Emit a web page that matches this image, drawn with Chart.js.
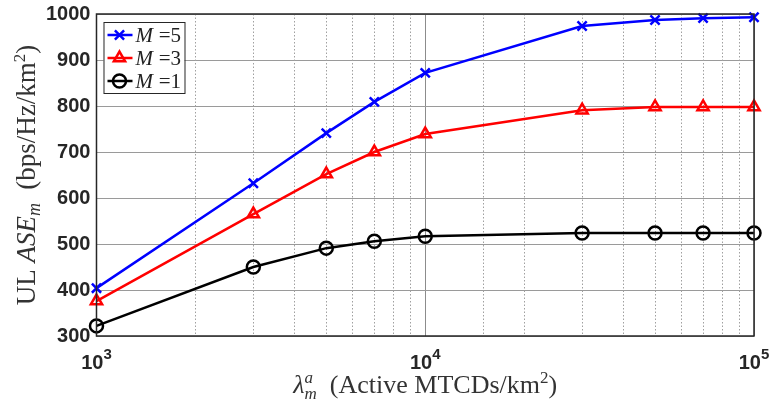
<!DOCTYPE html>
<html>
<head>
<meta charset="utf-8">
<script src="https://cdn.jsdelivr.net/npm/chart.js@4.4.1/dist/chart.umd.min.js"></script>
<style>
  html, body { margin: 0; padding: 0; background: #fff; }
  #wrap { width: 773px; height: 409px; }
</style>
</head>
<body>
<div id="wrap"><canvas id="ase"></canvas></div>
<script>
// Data
let density = [1000, 3000, 5000, 7000, 10000, 30000, 50000, 70000, 100000];
let aseM5 = [404, 632, 741, 809, 872, 974, 987, 991, 993];
let aseM3 = [376, 565, 652, 700, 739, 791, 798, 798, 798];
let aseM1 = [322, 450, 491, 506, 517, 524, 524, 524, 524];
let seriesLabels = ["M =5", "M =3", "M =1"];

// Colors
let blue = "#0000ff";
let red = "#ff0000";
let black = "#000000";
let axisInk = "#262626";
let titleInk = "#333333";

let serif = "'Liberation Serif'";
let roman = size => size + "px " + serif;
let italic = size => "italic " + size + "px " + serif;
let boldSans = size => "bold " + size + "px 'Liberation Sans'";

// axis titles as text runs (font, vertical shift)
let yTitleRuns = [
  { t: "UL ", f: roman(27), dy: 0 },
  { t: "ASE", f: italic(27), dy: 0 },
  { t: "m", f: italic(18), dy: 5 },
  { t: "  (bps/Hz/km", f: roman(27), dy: 0 },
  { t: "2", f: roman(17), dy: -10 },
  { t: ")", f: roman(27), dy: 0 }
];
let xTitleRuns = [
  { t: "λ", f: italic(26), dy: 0 },
  { t: "m", f: italic(17), dy: 6, sup: { t: "a", f: italic(17), dy: -10 } },
  { t: "  (Active MTCDs/km", f: roman(26), dy: 0 },
  { t: "2", f: roman(17), dy: -10 },
  { t: ")", f: roman(26), dy: 0 }
];

function pts(ys) {
  return density.map((x, i) => ({ x: x, y: ys[i] }));
}

function isDecade(v) {
  let l = Math.log10(v);
  return Math.abs(l - Math.round(l)) < 1e-9;
}

function runsWidth(ctx, runs) {
  let w = 0;
  runs.forEach(r => {
    ctx.font = r.f;
    let rw = ctx.measureText(r.t).width;
    if (r.sup) { ctx.font = r.sup.f; rw = Math.max(rw, ctx.measureText(r.sup.t).width); }
    w += rw;
  });
  return w;
}

function drawRuns(ctx, runs, cx, baseY) {
  let x = cx - runsWidth(ctx, runs) / 2;
  ctx.textBaseline = "alphabetic";
  ctx.textAlign = "left";
  runs.forEach(r => {
    ctx.font = r.f;
    ctx.fillText(r.t, x, baseY + r.dy);
    let rw = ctx.measureText(r.t).width;
    if (r.sup) {
      ctx.font = r.sup.f;
      ctx.fillText(r.sup.t, x, baseY + r.sup.dy);
      rw = Math.max(rw, ctx.measureText(r.sup.t).width);
    }
    x += rw;
  });
}

// dotted minor grid, box, decade tick labels, axis titles
let framePlugin = {
  id: 'framePlugin',
  beforeDatasetsDraw(chart) {
    let ctx = chart.ctx, a = chart.chartArea, xs = chart.scales.x;
    ctx.save();
    ctx.strokeStyle = "#a0a0a0";
    ctx.lineWidth = 1;
    ctx.setLineDash([1.5, 2]);
    xs.ticks.forEach(t => {
      if (isDecade(t.value)) return;
      let px = Math.round(xs.getPixelForValue(t.value)) + 0.5;
      ctx.beginPath();
      ctx.moveTo(px, a.top);
      ctx.lineTo(px, a.bottom);
      ctx.stroke();
    });
    ctx.restore();
  },
  afterDatasetsDraw(chart) {
    let ctx = chart.ctx, a = chart.chartArea, xs = chart.scales.x;
    ctx.save();
    ctx.strokeStyle = axisInk;
    ctx.lineWidth = 1.5;
    ctx.strokeRect(a.left, a.top, a.right - a.left, a.bottom - a.top);

    // 10^n labels with a real superscript
    ctx.fillStyle = axisInk;
    xs.ticks.forEach(t => {
      if (!isDecade(t.value)) return;
      let base = "10", exp = String(Math.round(Math.log10(t.value)));
      ctx.font = boldSans(20);
      let wb = ctx.measureText(base).width;
      ctx.font = boldSans(15);
      let we = ctx.measureText(exp).width;
      let x = xs.getPixelForValue(t.value) - (wb + we) / 2;
      ctx.textAlign = "left";
      ctx.textBaseline = "alphabetic";
      ctx.font = boldSans(20);
      ctx.fillText(base, x, a.bottom + 33);
      ctx.font = boldSans(15);
      ctx.fillText(exp, x + wb, a.bottom + 23);
    });

    ctx.fillStyle = titleInk;
    drawRuns(ctx, xTitleRuns, (a.left + a.right) / 2, 393);
    ctx.translate(35, (a.top + a.bottom) / 2);
    ctx.rotate(-Math.PI / 2);
    drawRuns(ctx, yTitleRuns, 0, 0);
    ctx.restore();
  }
};

// legend box inside the plot, top left
let legendPlugin = {
  id: 'legendPlugin',
  afterDraw(chart) {
    let ctx = chart.ctx, a = chart.chartArea;
    let x0 = a.left + 7, y0 = a.top + 8, w = 81, h = 71;
    ctx.save();
    ctx.fillStyle = "#fff";
    ctx.fillRect(x0, y0, w, h);
    ctx.strokeStyle = axisInk;
    ctx.lineWidth = 1;
    ctx.strokeRect(x0 + 0.5, y0 + 0.5, w, h);
    chart.data.datasets.forEach((ds, i) => {
      let cy = y0 + 13 + i * 23;
      ctx.strokeStyle = ds.borderColor;
      ctx.lineWidth = 2.5;
      ctx.setLineDash([]);
      ctx.beginPath();
      ctx.moveTo(x0 + 4, cy);
      ctx.lineTo(x0 + 29, cy);
      ctx.stroke();
      ctx.fillStyle = "rgba(0,0,0,0)";
      Chart.helpers.drawPoint(ctx, {
        pointStyle: ds.pointStyle, radius: 6.5, rotation: 0, borderWidth: 2.5
      }, x0 + 16, cy);
      ctx.fillStyle = "#222";
      ctx.textBaseline = "middle";
      ctx.font = italic(21);
      ctx.fillText("M", x0 + 32, cy + 1);
      ctx.font = roman(21);
      ctx.fillText(" =" + seriesLabels[i].split("=")[1], x0 + 50, cy + 1);
    });
    ctx.restore();
  }
};

function line(label, ys, color, style) {
  return {
    label: label,
    data: pts(ys),
    borderColor: color,
    backgroundColor: color,
    pointBackgroundColor: "rgba(0,0,0,0)",
    pointBorderColor: color,
    pointStyle: style,
    pointRadius: 6.5,
    pointBorderWidth: 2.5,
    borderWidth: 2.5,
    tension: 0
  };
}

function noOverhang(scale) {
  scale.paddingLeft = 0;
  scale.paddingRight = 0;
  scale.paddingTop = 0;
  scale.paddingBottom = 0;
}

new Chart(document.getElementById("ase").getContext('2d'), {
  type: 'line',
  data: {
    datasets: [
      line(seriesLabels[0], aseM5, blue, 'crossRot'),
      line(seriesLabels[1], aseM3, red, 'triangle'),
      line(seriesLabels[2], aseM1, black, 'circle')
    ]
  },
  options: {
    responsive: true,
    maintainAspectRatio: false,
    animation: false,
    clip: false,
    layout: { padding: { left: 40, right: 19, top: 14, bottom: 73 } },
    plugins: {
      legend: { display: false },
      tooltip: { enabled: false }
    },
    scales: {
      x: {
        type: 'logarithmic',
        min: 1000,
        max: 100000,
        afterFit: noOverhang,
        border: { display: false },
        grid: {
          color: ctx => isDecade(ctx.tick.value) ? "#8c8c8c" : "rgba(0,0,0,0)",
          lineWidth: 1,
          drawTicks: false
        },
        ticks: {
          autoSkip: false,
          display: false
        }
      },
      y: {
        min: 300,
        max: 1000,
        afterFit: noOverhang,
        border: { display: false },
        grid: { color: "#9a9a9a", lineWidth: 1, drawTicks: false },
        ticks: {
          stepSize: 100,
          padding: 6,
          color: axisInk,
          font: { family: "'Liberation Sans'", weight: 'bold', size: 20 },
          callback: v => String(v)
        }
      }
    }
  },
  plugins: [framePlugin, legendPlugin]
});
</script>
</body>
</html>
